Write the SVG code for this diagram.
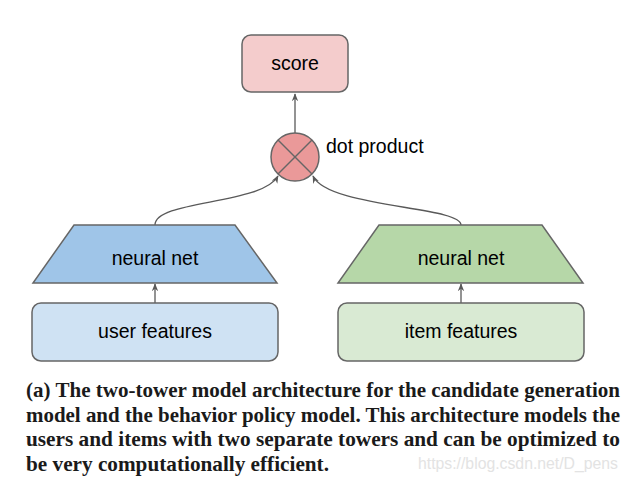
<svg xmlns="http://www.w3.org/2000/svg" width="628" height="484" viewBox="0 0 628 484">
<style>
.n{stroke:#666666;stroke-width:1.5}
.t{font-family:"Liberation Sans",Arial,sans-serif;font-size:19.5px;fill:#000;text-anchor:middle}
.c{fill:none;stroke:#595959;stroke-width:1.3}
.cap{font-family:"Liberation Serif","Times New Roman",serif;font-weight:bold;font-size:21px;fill:#1a1a1a}
</style>
<defs>
<marker id="ah" viewBox="0 0 10 10" refX="9" refY="5" markerWidth="8" markerHeight="8" markerUnits="userSpaceOnUse" orient="auto">
<path d="M0,1 L10,5 L0,9 L3,5 z" fill="#595959"/>
</marker>
</defs>
<rect width="628" height="484" fill="#ffffff"/>
<g id="connectors">
<line class="c" x1="295" y1="133" x2="295" y2="94" marker-end="url(#ah)"/>
<path class="c" d="M155,225 C155,200 262,205 278,176" marker-end="url(#ah)"/>
<path class="c" d="M461,225 C461,206 328,208 313,176" marker-end="url(#ah)"/>
<line class="c" x1="155" y1="303" x2="155" y2="284" marker-end="url(#ah)"/>
<line class="c" x1="461" y1="303" x2="461" y2="284" marker-end="url(#ah)"/>
</g>
<g id="score">
<rect class="n" x="242" y="35" width="106" height="57" rx="9" fill="#f4cccc"/>
<text class="t" x="295" y="70">score</text>
</g>
<g id="dot-product">
<circle class="n" cx="295" cy="157" r="24" fill="#ea9999"/>
<line class="n" x1="278" y1="140" x2="312" y2="174"/>
<line class="n" x1="312" y1="140" x2="278" y2="174"/>
<text x="326" y="153" style="font-family:'Liberation Sans',Arial,sans-serif;font-size:19.5px;fill:#000">dot product</text>
</g>
<g id="user-net">
<polygon class="n" points="74,225 235,225 277,283 33,283" fill="#9fc5e8"/>
<text class="t" x="155" y="265">neural net</text>
</g>
<g id="item-net">
<polygon class="n" points="379,225 542,225 583,283 338,283" fill="#b6d7a8"/>
<text class="t" x="461" y="265">neural net</text>
</g>
<g id="user-features">
<rect class="n" x="32" y="303" width="246" height="58" rx="9" fill="#cfe2f3"/>
<text class="t" x="155" y="338">user features</text>
</g>
<g id="item-features">
<rect class="n" x="338" y="303" width="246" height="58" rx="9" fill="#d9ead3"/>
<text class="t" x="461" y="338">item features</text>
</g>
<g id="caption">
<text class="cap" x="26" y="397" textLength="594" lengthAdjust="spacingAndGlyphs">(a) The two-tower model architecture for the candidate generation</text>
<text class="cap" x="26" y="422" textLength="594" lengthAdjust="spacingAndGlyphs">model and the behavior policy model. This architecture models the</text>
<text class="cap" x="26" y="446" textLength="594" lengthAdjust="spacingAndGlyphs">users and items with two separate towers and can be optimized to</text>
<text class="cap" x="26" y="471" textLength="303" lengthAdjust="spacingAndGlyphs">be very computationally efficient.</text>
<text x="418" y="469" textLength="200" lengthAdjust="spacingAndGlyphs" style="font-family:'Liberation Sans',Arial,sans-serif;font-size:16px;fill:#e3e3e3">https://blog.csdn.net/D_pens</text>
</g>
</svg>
